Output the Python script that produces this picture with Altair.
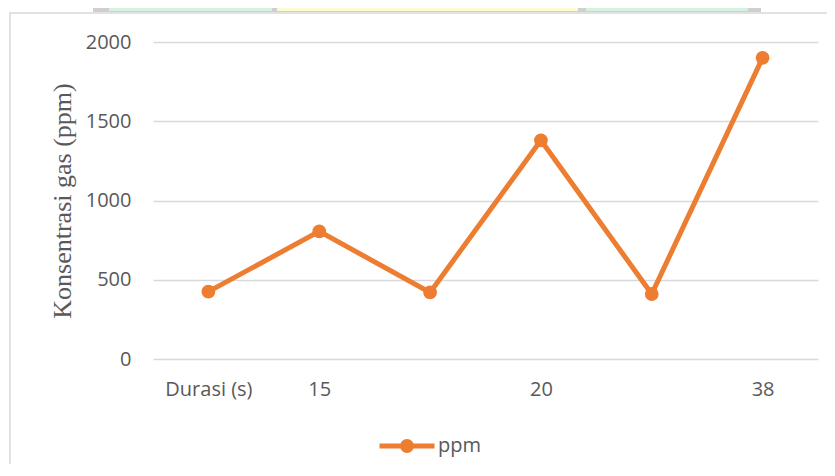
import json
import altair as alt
import pandas as pd

# ---- data ----
x_labels = ["Durasi (s)", "15", "", "20", "", "38"]
ppm_values = [425, 805, 420, 1380, 410, 1900]
y_ticks = [0, 500, 1000, 1500, 2000]
series_name = "ppm"

ORANGE = "#ED7D31"
GRAY_TXT = "#595959"
GRID = "#d9d9d9"

df = pd.DataFrame({
    "idx": list(range(len(x_labels))),
    "ppm": ppm_values,
    "series": [series_name] * len(x_labels),
})

label_expr = json.dumps(x_labels) + "[datum.value]"

W, H = 665, 317

x_enc = alt.X(
    "idx:O",
    sort=None,
    scale=alt.Scale(type="point", padding=0.5),
    axis=alt.Axis(
        title=None,
        labelExpr=label_expr,
        labelAngle=0,
        labelFont="Open Sans",
        labelFontSize=20,
        labelColor=GRAY_TXT,
        labelPadding=20,
        ticks=False,
        domain=False,
        grid=False,
    ),
)
y_enc = alt.Y(
    "ppm:Q",
    scale=alt.Scale(domain=[0, 2000], nice=False),
    axis=alt.Axis(
        title="Konsentrasi gas (ppm)",
        titleFont="Liberation Serif",
        titleFontSize=26,
        titleFontWeight="normal",
        titleColor=GRAY_TXT,
        titlePadding=10,
        values=y_ticks,
        format="d",
        labelFont="Open Sans",
        labelFontSize=20,
        labelColor=GRAY_TXT,
        labelPadding=22,
        ticks=False,
        domain=False,
        grid=True,
        gridColor=GRID,
        gridWidth=1.5,
    ),
)

legend_symbol = "M-1,0L1,0M0.16,0A0.16,0.16,0,1,1,-0.16,0A0.16,0.16,0,1,1,0.16,0"

color_enc = alt.Color(
    "series:N",
    scale=alt.Scale(range=[ORANGE]),
    legend=alt.Legend(
        title=None,
        orient="none",
        legendX=224,
        legendY=374,
        symbolType=legend_symbol,
        symbolSize=3025,
        symbolStrokeWidth=5,
        symbolFillColor=ORANGE,
        symbolStrokeColor=ORANGE,
        labelFont="Open Sans",
        labelFontSize=20,
        labelColor=GRAY_TXT,
        labelOffset=1,
        padding=0,
    ),
)

base = alt.Chart(df)
line = base.mark_line(strokeWidth=5, color=ORANGE).encode(x=x_enc, y=y_enc, color=color_enc)
pts = base.mark_circle(size=190, opacity=1, color=ORANGE).encode(x=x_enc, y=y_enc)

one = pd.DataFrame({"k": [0]})
border = alt.Chart(one).mark_rect(fill="white", fillOpacity=0, stroke=GRID, strokeWidth=1.5).encode(
    x=alt.value(-143), x2=alt.value(690), y=alt.value(-29), y2=alt.value(440)
)
top_gray = alt.Chart(one).mark_rect(color="#cfcfcf").encode(
    x=alt.value(-60), x2=alt.value(608), y=alt.value(-45), y2=alt.value(-30)
)
top_g1 = alt.Chart(one).mark_rect(color="#d5f2e0").encode(
    x=alt.value(-44), x2=alt.value(119), y=alt.value(-45), y2=alt.value(-31)
)
top_y = alt.Chart(one).mark_rect(color="#fffbd0").encode(
    x=alt.value(124), x2=alt.value(425), y=alt.value(-45), y2=alt.value(-31)
)
top_g2 = alt.Chart(one).mark_rect(color="#d5f2e0").encode(
    x=alt.value(433), x2=alt.value(595), y=alt.value(-45), y2=alt.value(-31)
)

chart = alt.layer(border, top_gray, top_g1, top_y, top_g2, line, pts).properties(
    width=W,
    height=H,
    autosize=alt.AutoSizeParams(type="none"),
    padding={"left": 145, "top": 34, "right": 9, "bottom": 105},
    background="white",
).configure_view(stroke=None)

chart.save("out.html", embed_options={"renderer": "svg", "actions": False})
